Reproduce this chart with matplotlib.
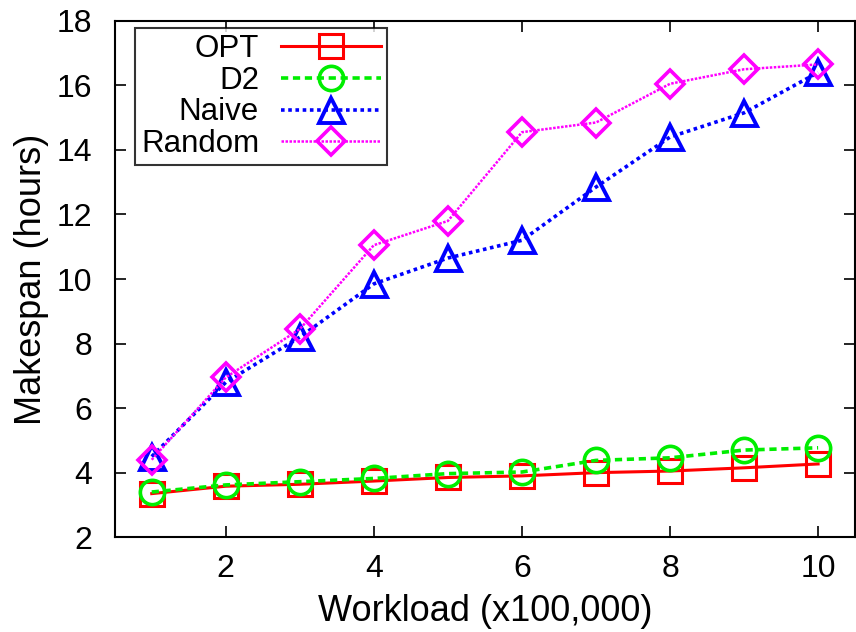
import matplotlib
matplotlib.use("Agg")
import matplotlib.pyplot as plt

plt.rcParams['font.family'] = ['Liberation Sans', 'DejaVu Sans']

workload = [1, 2, 3, 4, 5, 6, 7, 8, 9, 10]
opt = [3.35, 3.58, 3.64, 3.74, 3.85, 3.9, 4.0, 4.05, 4.15, 4.27]
d2 = [3.4, 3.62, 3.72, 3.82, 3.97, 4.02, 4.38, 4.46, 4.7, 4.77]
naive = [4.5, 6.8, 8.2, 9.85, 10.65, 11.2, 12.85, 14.4, 15.15, 16.4]
rand = [4.4, 6.95, 8.45, 11.05, 11.8, 14.55, 14.85, 16.05, 16.5, 16.65]

fig = plt.figure(figsize=(8.56, 6.32), dpi=100)
ax = fig.add_axes([0.134, 0.150, 0.865, 0.817])

ax.plot(workload, opt, color='#ff0000', linestyle='-', linewidth=2.2,
        marker='s', markersize=17, markerfacecolor='none', markeredgewidth=2.2,
        label='OPT')
ax.plot(workload, d2, color='#00ee00', linestyle=(0, (2, 1.3)), linewidth=2.6,
        marker='o', markersize=17.5, markerfacecolor='none', markeredgewidth=2.6,
        label='D2')
ax.plot(workload, naive, color='#0000ff', linestyle=(0, (1, 1)), linewidth=2.6,
        marker='^', markersize=18, markerfacecolor='none', markeredgewidth=2.8,
        label='Naive')
ax.plot(workload, rand, color='#ff00ff', linestyle=(0, (1, 0.6)), linewidth=1.8,
        marker='D', markersize=14, markerfacecolor='none', markeredgewidth=2.6,
        label='Random')

ax.set_xlim(0.5, 10.5)
ax.set_ylim(2, 18)
ax.set_xticks([2, 4, 6, 8, 10])
ax.set_yticks(range(2, 19, 2))
ax.tick_params(direction='in', top=True, right=True, length=8, width=1.2,
               labelsize=23)
ax.tick_params(axis='y', pad=16)
ax.tick_params(axis='x', pad=12)
for s in ax.spines.values():
    s.set_linewidth(1.5)

ax.set_xlabel('Workload (x100,000)', fontsize=26, labelpad=7)
ax.set_ylabel('Makespan (hours)', fontsize=26, labelpad=6)

leg = ax.legend(loc='upper left', bbox_to_anchor=(0.027, 0.986),
                borderaxespad=0, markerfirst=False, fontsize=22.5,
                frameon=True, fancybox=False, edgecolor='black',
                handlelength=3.2, handletextpad=0.7, labelspacing=0.05,
                borderpad=0.2)
leg.get_frame().set_linewidth(1.5)

fig.savefig('out.png', dpi=100)
